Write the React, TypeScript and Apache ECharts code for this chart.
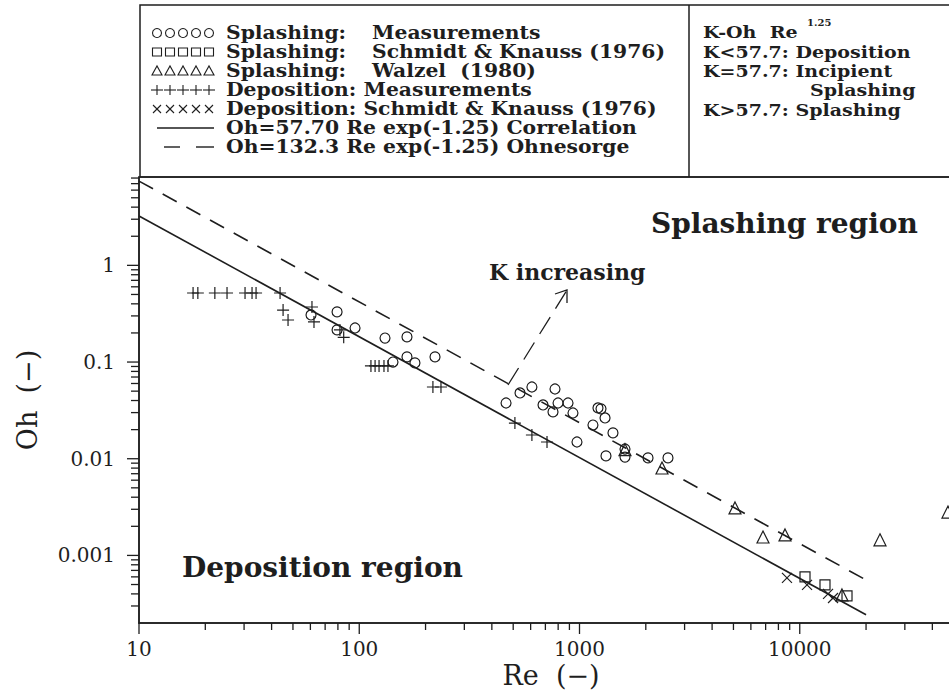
import React, { useEffect, useRef } from "react";
import * as echarts from "echarts";

// ---------- data ----------
const X_MIN = 10;
const X_MAX = 100000;
const Y_MIN = 0.0002;
const Y_MAX = 8.2;

const X_TICK_LABELS = ["10", "100", "1000", "10000"];
const Y_TICK_LABELS = ["0.001", "0.01", "0.1", "1"];

const X_MAJOR_TICKS = [10, 100, 1000, 10000, 100000];
const X_MINOR_TICKS = [
  20, 30, 40, 50, 60, 70, 80, 90,
  200, 300, 400, 500, 600, 700, 800, 900,
  2000, 3000, 4000, 5000, 6000, 7000, 8000, 9000,
  20000, 30000, 40000, 50000, 60000, 70000, 80000, 90000,
];
const Y_MAJOR_TICKS = [0.001, 0.01, 0.1, 1];
const Y_MINOR_TICKS = [
  0.0003, 0.0004, 0.0005, 0.0006, 0.0007, 0.0008, 0.0009,
  0.002, 0.003, 0.004, 0.005, 0.006, 0.007, 0.008, 0.009,
  0.02, 0.03, 0.04, 0.05, 0.06, 0.07, 0.08, 0.09,
  0.2, 0.3, 0.4, 0.5, 0.6, 0.7, 0.8, 0.9,
  2, 3, 4, 5, 6, 7, 8,
];

// Splashing: Measurements (circles)  [Re, Oh]
const SPLASH_MEAS: [number, number][] = [
  [60.4, 0.307], [79.3, 0.33], [79.3, 0.215], [95.7, 0.225], [130.9, 0.177],
  [164.7, 0.182], [142.3, 0.1], [164.7, 0.113], [179, 0.098], [220.8, 0.113],
  [464, 0.0377], [537, 0.0479], [608, 0.0552], [774, 0.0526], [683, 0.036],
  [758, 0.0305], [799, 0.0377], [887, 0.0377], [934, 0.0297], [1213, 0.0335],
  [1252, 0.0328], [1306, 0.0264], [1151, 0.0223], [1419, 0.0185], [974, 0.0149],
  [1609, 0.0126], [1609, 0.0104], [1319, 0.0107], [2047, 0.0102], [2522, 0.0102],
];
// Splashing: Schmidt & Knauss (1976) (squares)
const SPLASH_SK: [number, number][] = [
  [10565, 0.000599], [13020, 0.000495], [16390, 0.000381],
];
// Splashing: Walzel (1980) (triangles)
const SPLASH_WALZEL: [number, number][] = [
  [1609, 0.0124], [2369, 0.00802], [5082, 0.0031], [6810, 0.00155],
  [8572, 0.00163], [23140, 0.00145], [47100, 0.00281], [15550, 0.00039],
];
// Deposition: Measurements (plus)
const DEPO_MEAS: [number, number][] = [
  [17.6, 0.518], [18.5, 0.518], [22.1, 0.518], [25.1, 0.518], [30.3, 0.518],
  [32.6, 0.518], [34.0, 0.518], [43.7, 0.518], [45.1, 0.345], [47.5, 0.272],
  [61.0, 0.371], [62.3, 0.26], [81.7, 0.215], [85, 0.18], [113, 0.0911],
  [118, 0.0911], [123, 0.0911], [129.5, 0.0911], [135, 0.0911], [216, 0.0552],
  [235, 0.0552], [509, 0.0234], [608, 0.0176], [712, 0.0149],
];
// Deposition: Schmidt & Knauss (1976) (crosses)
const DEPO_SK: [number, number][] = [
  [8750, 0.000585], [10790, 0.000495], [13440, 0.0004], [14160, 0.000363],
];
// Oh = 57.70 Re^-1.25 (correlation) and Oh = 132.3 Re^-1.25 (Ohnesorge)
const CORR_LINE: [number, number][] = [[10, 3.245], [20000, 0.000243]];
const OHN_LINE: [number, number][] = [[10, 7.44], [20000, 0.000557]];

// ---------- styling ----------
const INK = "#1e1e1e";
const SERIF = '"DejaVu Serif", serif';
const bold = (px: number) => `bold ${px}px ${SERIF}`;
const reg = (px: number) => `${px}px ${SERIF}`;

const PLUS_PATH = "path://M5,0L5,10M0,5L10,5";
const CROSS_PATH = "path://M0,0L10,10M10,0L0,10";

function tickSeries(values: number[], axis: "x" | "y", len: number) {
  return {
    type: "custom",
    silent: true,
    clip: false,
    z: 6,
    data: values.map((v) => (axis === "x" ? [v, Y_MIN] : [X_MIN, v])),
    renderItem: (_p: any, api: any) => {
      const pt = api.coord([api.value(0), api.value(1)]);
      const shape =
        axis === "x"
          ? { x1: pt[0], y1: pt[1], x2: pt[0], y2: pt[1] + len }
          : { x1: pt[0] - len, y1: pt[1], x2: pt[0], y2: pt[1] };
      return { type: "line", shape, style: { stroke: INK, lineWidth: 1.3 } };
    },
  };
}

function scatter(name: string, data: [number, number][], symbol: string, size: number) {
  return {
    name,
    type: "scatter",
    data,
    symbol,
    symbolSize: size,
    clip: false,
    z: 4,
    itemStyle: { color: "none", borderColor: INK, borderWidth: 1.2, opacity: 1 },
  };
}

function legendGraphics() {
  const els: any[] = [];
  const xs = [157, 170, 183, 196, 209];
  const rows = [33, 52, 71, 90, 109, 128, 147];
  const st = { fill: "none", stroke: INK, lineWidth: 1.1 };
  xs.forEach((x) => {
    els.push({ type: "circle", shape: { cx: x, cy: rows[0], r: 4.5 }, style: st });
    els.push({ type: "rect", shape: { x: x - 4.5, y: rows[1] - 4, width: 9, height: 8 }, style: st });
    els.push({
      type: "polygon",
      shape: { points: [[x - 5, rows[2] + 4], [x + 5, rows[2] + 4], [x, rows[2] - 5]] },
      style: st,
    });
    els.push({ type: "line", shape: { x1: x - 6, y1: rows[3], x2: x + 6, y2: rows[3] }, style: st });
    els.push({ type: "line", shape: { x1: x, y1: rows[3] - 5, x2: x, y2: rows[3] + 5 }, style: st });
    els.push({ type: "line", shape: { x1: x - 4, y1: rows[4] - 4, x2: x + 4, y2: rows[4] + 4 }, style: st });
    els.push({ type: "line", shape: { x1: x - 4, y1: rows[4] + 4, x2: x + 4, y2: rows[4] - 4 }, style: st });
  });
  els.push({ type: "line", shape: { x1: 157, y1: rows[5], x2: 214, y2: rows[5] }, style: { stroke: INK, lineWidth: 1.4 } });
  els.push({ type: "line", shape: { x1: 164, y1: rows[6], x2: 180, y2: rows[6] }, style: { stroke: INK, lineWidth: 1.4 } });
  els.push({ type: "line", shape: { x1: 196, y1: rows[6], x2: 214, y2: rows[6] }, style: { stroke: INK, lineWidth: 1.4 } });

  const t = (text: string, x: number, y: number, font = bold(19), sx = 1) => ({
    type: "text",
    x,
    y,
    scaleX: sx,
    style: { text, font, fill: INK, textAlign: "left", textVerticalAlign: "middle" },
  });
  const L = 1.07;
  els.push(t("Splashing:", 226, rows[0], bold(19), L));
  els.push(t("Measurements", 372, rows[0], bold(19), L));
  els.push(t("Splashing:", 226, rows[1], bold(19), L));
  els.push(t("Schmidt & Knauss (1976)", 372, rows[1], bold(19), L));
  els.push(t("Splashing:", 226, rows[2], bold(19), L));
  els.push(t("Walzel  (1980)", 372, rows[2], bold(19), L));
  els.push(t("Deposition: Measurements", 226, rows[3], bold(19), L));
  els.push(t("Deposition: Schmidt & Knauss (1976)", 226, rows[4], bold(19), L));
  els.push(t("Oh=57.70 Re exp(-1.25) Correlation", 226, rows[5], bold(19), L));
  els.push(t("Oh=132.3 Re exp(-1.25) Ohnesorge", 226, rows[6], bold(19), L));

  const R = 1.12;
  els.push(t("K-Oh  Re", 703, 32, bold(17), R));
  els.push(t("1.25", 807, 22, bold(10)));
  els.push(t("K<57.7: Deposition", 703, 52, bold(17), R));
  els.push(t("K=57.7: Incipient", 703, 71, bold(17), R));
  els.push(t("Splashing", 810, 90, bold(17), R));
  els.push(t("K>57.7: Splashing", 703, 110, bold(17), R));

  // legend box and divider
  els.push({
    type: "rect",
    shape: { x: 140, y: 5, width: 840, height: 172 },
    style: { fill: "none", stroke: INK, lineWidth: 1.5 },
  });
  els.push({ type: "line", shape: { x1: 689, y1: 5, x2: 689, y2: 177 }, style: { stroke: INK, lineWidth: 1.5 } });
  return els;
}

function annotationGraphics() {
  const els: any[] = [];
  els.push({
    type: "text", x: 651, y: 223,
    style: { text: "Splashing region", font: bold(28), fill: INK, textAlign: "left", textVerticalAlign: "middle" },
  });
  els.push({
    type: "text", x: 182, y: 567,
    style: { text: "Deposition region", font: bold(28), fill: INK, textAlign: "left", textVerticalAlign: "middle" },
  });
  els.push({
    type: "text", x: 489, y: 272,
    style: { text: "K increasing", font: bold(22), fill: INK, textAlign: "left", textVerticalAlign: "middle" },
  });
  els.push({
    type: "line", shape: { x1: 508, y1: 385, x2: 567, y2: 290 },
    style: { stroke: INK, lineWidth: 1.3, lineDash: [20, 10] },
  });
  els.push({
    type: "polyline", shape: { points: [[555, 294], [567, 290], [567, 303]] },
    style: { stroke: INK, lineWidth: 1.3, fill: "none" },
  });
  els.push({
    type: "text", x: 551, y: 675,
    style: { text: "Re  (\u2212)", font: reg(27), fill: INK, textAlign: "center", textVerticalAlign: "middle" },
  });
  return els;
}

export default function App() {
  const ref = useRef<HTMLDivElement>(null);
  useEffect(() => {
    if (!ref.current) return;
    const chart = echarts.init(ref.current, undefined, { renderer: "svg" });
    const fmt = (v: number) => String(parseFloat(Number(v).toPrecision(6)));
    chart.setOption({
      animation: false,
      backgroundColor: "#ffffff",
      grid: {
        left: 139, top: 177, width: 881, height: 446,
        show: true, borderColor: INK, borderWidth: 1.5,
        containLabel: false, outerBoundsMode: "none",
      },
      xAxis: {
        type: "log", logBase: 10, min: X_MIN, max: X_MAX,
        axisLine: { lineStyle: { color: INK, width: 1.5 } },
        axisTick: { show: false },
        splitLine: { show: false },
        axisLabel: {
          fontFamily: SERIF, fontSize: 20, color: INK, margin: 16,
          showMaxLabel: false,
          formatter: (v: number) => {
            const s = fmt(v);
            return X_TICK_LABELS.includes(s) ? s : "";
          },
        },
      },
      yAxis: {
        type: "log", logBase: 10, min: Y_MIN, max: Y_MAX,
        name: "Oh  (\u2212)", nameLocation: "middle", nameGap: 98, nameRotate: 90,
        nameTextStyle: { fontFamily: SERIF, fontSize: 27, color: INK },
        axisLine: { lineStyle: { color: INK, width: 1.5 } },
        axisTick: { show: false },
        splitLine: { show: false },
        axisLabel: {
          fontFamily: SERIF, fontSize: 20, color: INK, margin: 24,
          showMinLabel: false, showMaxLabel: false,
          formatter: (v: number) => {
            const s = fmt(v);
            return Y_TICK_LABELS.includes(s) ? s : "";
          },
        },
      },
      series: [
        {
          name: "Oh=57.70 Re exp(-1.25) Correlation", type: "line", data: CORR_LINE,
          showSymbol: false, symbol: "none", z: 3,
          lineStyle: { color: INK, width: 1.6, type: "solid" },
        },
        {
          name: "Oh=132.3 Re exp(-1.25) Ohnesorge", type: "line", data: OHN_LINE,
          showSymbol: false, symbol: "none", z: 3,
          lineStyle: { color: INK, width: 1.6, type: [16, 11] },
        },
        scatter("Splashing: Measurements", SPLASH_MEAS, "circle", 10),
        scatter("Splashing: Schmidt & Knauss (1976)", SPLASH_SK, "rect", 10),
        scatter("Splashing: Walzel (1980)", SPLASH_WALZEL, "triangle", 12),
        scatter("Deposition: Measurements", DEPO_MEAS, PLUS_PATH, 12),
        scatter("Deposition: Schmidt & Knauss (1976)", DEPO_SK, CROSS_PATH, 10),
        tickSeries(X_MAJOR_TICKS, "x", 11),
        tickSeries(X_MINOR_TICKS, "x", 7),
        tickSeries(Y_MAJOR_TICKS, "y", 12),
        tickSeries(Y_MINOR_TICKS, "y", 8),
      ],
      graphic: [...legendGraphics(), ...annotationGraphics()],
    });
    return () => chart.dispose();
  }, []);
  return (
    <div
      ref={ref}
      style={{ position: "absolute", left: 0, top: 0, width: 949, height: 693, overflow: "hidden", background: "#fff" }}
    />
  );
}
